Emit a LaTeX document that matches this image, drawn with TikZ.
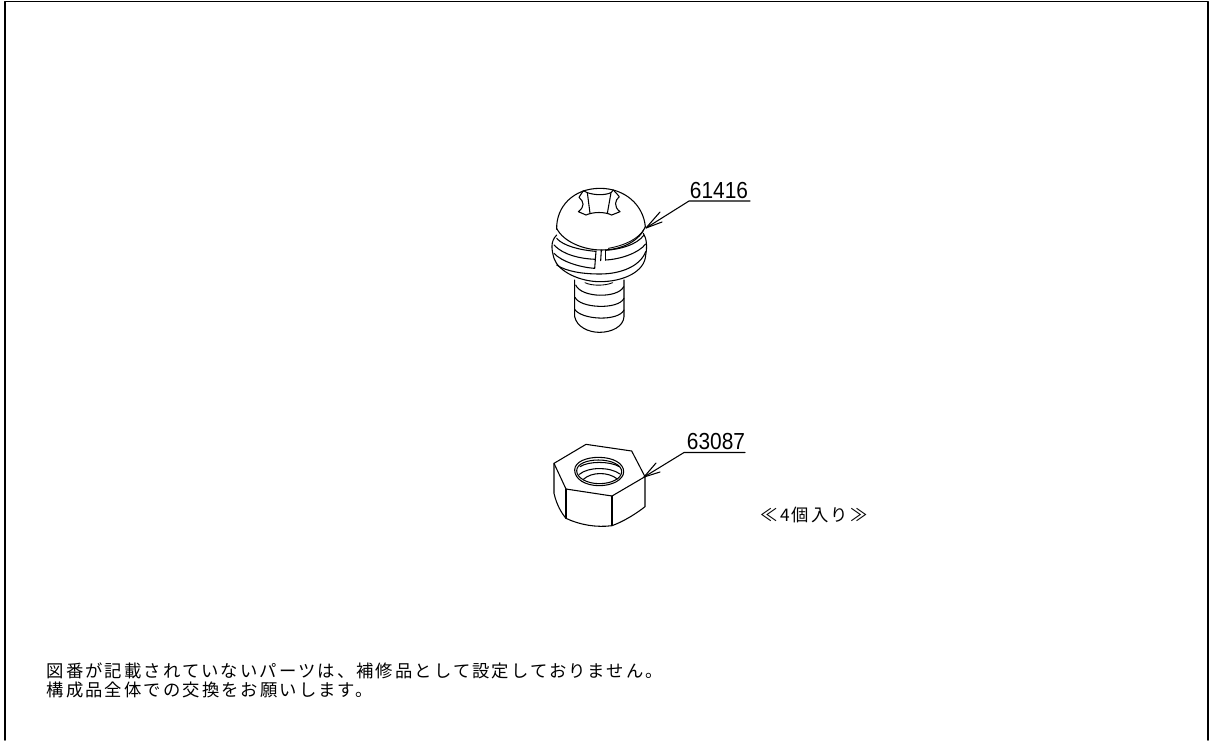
\documentclass[tikz,border=0pt]{standalone}
\usepackage{fontspec}
\setmainfont{Liberation Sans}
\newfontfamily\cjk[LetterSpace=12]{Noto Sans CJK JP}
\tikzset{
  line/.style={draw=black,line width=0.8pt,line cap=round,line join=round},
  thin line/.style={draw=black,line width=0.65pt,line cap=round,line join=round},
  partno/.style={font=\fontsize{17.4}{17.4}\selectfont,inner sep=0pt,anchor=base,xscale=0.9},
  note/.style={font=\cjk\fontsize{13}{15}\selectfont,inner sep=0pt,anchor=base west},
}
\begin{document}
\begin{tikzpicture}[x=0.75pt,y=-0.75pt]
\useasboundingbox (0,0) rectangle (1209,740);
\fill[white] (0,0) rectangle (1209,740);
\draw[line,line width=1.2pt] (5,740) -- (5,1.5) -- (1208,1.5) -- (1208,740);
% screw
\begin{scope}[shift={(530,170)},x=0.25pt,y=-0.25pt]
\draw[line] (80,178) .. controls (78,110) and (130,55) .. (210,55) .. controls (285,55) and (340,105) .. (346,170);
\draw[line] (80,175) .. controls (100,215) and (160,240) .. (215,240) .. controls (280,240) and (330,210) .. (346,170);
\draw[thin line] (235,235) .. controls (290,225) and (325,205) .. (342,178);
% recess
\draw[line] (147,82) .. controls (152,74) and (156,68) .. (160,62) -- (172,68) .. controls (195,76) and (225,76) .. (243,68) -- (250,60) .. controls (256,66) and (262,73) .. (268,80) .. controls (255,90) and (250,110) .. (270,125) -- (245,135) .. controls (225,125) and (190,125) .. (168,135) -- (145,125) .. controls (165,110) and (162,95) .. (147,82) -- cycle;
\draw[line] (172,68) -- (180,130);
\draw[line] (243,68) -- (232,130);
% washer
\draw[line] (80,195) .. controls (60,215) and (65,240) .. (72,265) .. controls (85,305) and (150,335) .. (210,335) .. controls (280,335) and (345,305) .. (347,255) .. controls (352,230) and (350,205) .. (340,190);
\draw[line] (72,250) .. controls (95,275) and (150,292) .. (194,295);
\draw[line] (80,285) .. controls (110,305) and (160,312) .. (210,312) .. controls (270,312) and (330,290) .. (347,245);
\draw[line] (80,205) .. controls (100,228) and (150,240) .. (197,244);
\draw[line] (198,243) -- (194,295);
\draw[line] (214,240) -- (212,272);
\draw[line] (226,240) -- (226,270);
\draw[line] (226,270) .. controls (270,268) and (325,250) .. (347,222);
\draw[line] (226,241) .. controls (270,238) and (320,225) .. (342,195);
\draw[line] (72,225) .. controls (100,255) and (150,266) .. (196,268);
% shank
\draw[line] (134,330) -- (134,440) .. controls (140,470) and (175,487) .. (208,487) .. controls (245,487) and (280,470) .. (282,440) -- (282,330);
\draw[line] (137,345) .. controls (155,385) and (265,385) .. (281,350);
\draw[line] (135,382) .. controls (150,415) and (265,420) .. (282,385);
\draw[line] (134,418) .. controls (155,450) and (265,455) .. (282,420);
\draw[thin line] (165,338) .. controls (185,348) and (225,348) .. (248,338);
\end{scope}
% nut
\begin{scope}[shift={(530,425)},x=0.25pt,y=-0.25pt]
\draw[line] (72,115) -- (168,58) -- (305,78) -- (345,155) -- (246,213) -- (108,192) -- cycle;
\draw[line] (72,115) -- (72,205) .. controls (80,240) and (95,265) .. (108,280) .. controls (150,300) and (200,308) .. (246,302) .. controls (280,290) and (320,265) .. (345,245) -- (345,155);
\draw[line] (108,192) -- (108,280);
\draw[line] (246,213) -- (246,302);
\draw[line] (134,135) .. controls (134,110) and (170,97) .. (205,97) .. controls (250,97) and (281,115) .. (281,140) .. controls (281,165) and (245,182) .. (208,182) .. controls (165,182) and (134,162) .. (134,135) -- cycle;
\draw[line] (140,137) .. controls (140,117) and (170,105) .. (205,105) .. controls (245,105) and (275,120) .. (275,140) .. controls (275,160) and (245,176) .. (208,176) .. controls (170,176) and (140,158) .. (140,137) -- cycle;
\draw[line] (150,125) .. controls (175,108) and (240,108) .. (268,125);
\draw[line] (148,148) .. controls (175,125) and (240,125) .. (270,147);
\draw[line] (160,163) .. controls (185,140) and (235,140) .. (262,162);
\end{scope}
% leaders
\coordinate (s1) at (689,201); \coordinate (s2) at (750,201); \coordinate (st) at (646,228);
\coordinate (n1) at (684,452.5); \coordinate (n2) at (745,452.5); \coordinate (nt) at (644,477);
\draw[line] (s2) -- (s1) -- (st);
\draw[line] (n2) -- (n1) -- (nt);
\coordinate (sa) at (660,212); \coordinate (sb) at (662,222);
\coordinate (na) at (656,463); \coordinate (nb) at (660,472);
\draw[line] (sa) -- (st) -- (sb);
\draw[line] (na) -- (nt) -- (nb);
\node[partno] (l1) at (719,198) {61416};
\node[partno] (l2) at (716,449) {63087};
\node[font=\cjk\fontsize{13}{15}\selectfont,inner sep=0pt] (qty) at (814,515) {≪4個入り≫};
\node[note] (t1) at (46.5,677) {図番が記載されていないパーツは、補修品として設定しておりません。};
\node[note] (t2) at (46.5,696) {構成品全体での交換をお願いします。};
\end{tikzpicture}
\end{document}
